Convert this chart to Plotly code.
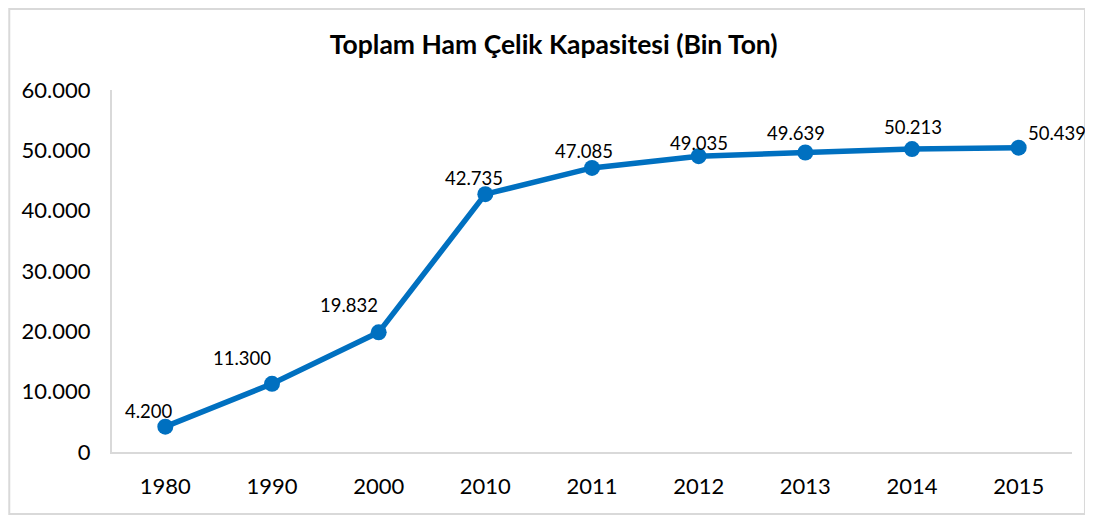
import plotly.graph_objects as go

# Veriler
yillar = ["1980", "1990", "2000", "2010", "2011", "2012", "2013", "2014", "2015"]
kapasite = [4200, 11300, 19832, 42735, 47085, 49035, 49639, 50213, 50439]
etiketler = ["4.200", "11.300", "19.832", "42.735", "47.085", "49.035", "49.639", "50.213", "50.439"]

mavi = "#0070C0"
gri = "#D9D9D9"
font_ad = "Lato"

fig = go.Figure()

fig.add_trace(go.Scatter(
    x=yillar,
    y=kapasite,
    mode="lines+markers",
    line=dict(color=mavi, width=5.5),
    marker=dict(color=mavi, size=16),
    hoverinfo="skip",
))

# Veri etiketleri (Excel gibi: çoğu sol üstte, sonuncusu sağda)
# x olarak kategori sırası kullanılıyor
kaydir = [(-16, 16), (-30, 26), (-30, 27), (-11, 16), (-8, 17), (0, 13), (-9, 20), (1, 22), (38, 15)]
for i, (deger, etiket, (dx, dy)) in enumerate(zip(kapasite, etiketler, kaydir)):
    fig.add_annotation(
        x=i, y=deger, text=etiket, showarrow=False,
        xshift=dx, yshift=dy,
        font=dict(family=font_ad, size=18.5, color="black"),
    )

# Grafik çerçevesi
fig.add_shape(
    type="rect", xref="paper", yref="paper",
    x0=-0.107, x1=1.0135, y0=-0.1713, y1=1.224,
    line=dict(color=gri, width=2), layer="below",
)

fig.update_layout(
    width=1085,
    height=509,
    margin=dict(l=104, r=21, t=82, b=65),
    paper_bgcolor="white",
    plot_bgcolor="white",
    showlegend=False,
    separators=",.",
    title=dict(
        text="<b>Toplam Ham Çelik Kapasitesi (Bin Ton)</b>",
        x=0.503, xanchor="center", y=0.927, yanchor="middle",
        font=dict(family=font_ad, size=26.5, color="black"),
    ),
    xaxis=dict(
        type="category",
        range=[-0.5, 8.5],
        showline=True, linecolor=gri, linewidth=2,
        showgrid=False, ticks="",
        ticklabelstandoff=14,
        tickfont=dict(family=font_ad, size=22, color="black"),
    ),
    yaxis=dict(
        range=[0, 60000],
        dtick=10000,
        tickformat=",d",
        showline=True, linecolor=gri, linewidth=2,
        showgrid=False, zeroline=False, ticks="",
        ticklabelstandoff=15,
        tickfont=dict(family=font_ad, size=22, color="black"),
    ),
)

fig.write_html("out.html")
